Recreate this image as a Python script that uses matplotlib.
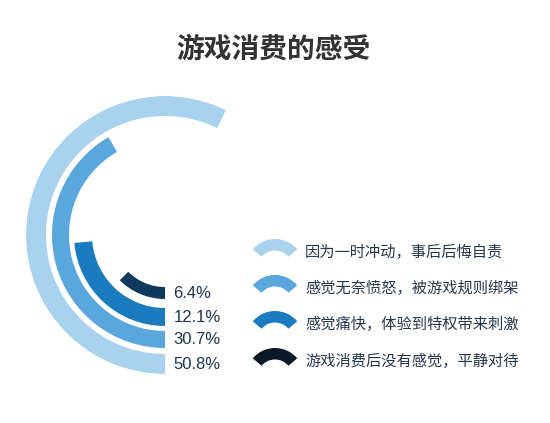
import numpy as np
import matplotlib
matplotlib.use("Agg")
import matplotlib.pyplot as plt
from matplotlib.patches import Wedge

plt.rcParams['font.family'] = ['Noto Sans CJK SC', 'DejaVu Sans']

# ---- data ----
title = "游戏消费的感受"
categories = ["因为一时冲动，事后后悔自责",
              "感觉无奈愤怒，被游戏规则绑架",
              "感觉痛快，体验到特权带来刺激",
              "游戏消费后没有感觉，平静对待"]
values = [50.8, 30.7, 12.1, 6.4]
value_labels = ["50.8%", "30.7%", "12.1%", "6.4%"]
# angular extent of each arc as drawn in the reference (degrees)
arc_extent = [206, 150, 85, 45]

# ---- styles ----
colors = ["#a9d2ef", "#5aa7dd", "#1a7bbf", "#0e3a60"]
legend_colors = ["#a9d2ef", "#5aa7dd", "#1a7bbf", "#0b1828"]
ring_inner = [119, 96, 73, 52]
ring_outer = [139, 113, 91, 64]

W, H = 550, 423
fig = plt.figure(figsize=(W / 100, H / 100), dpi=100)
fig.patch.set_facecolor("white")

# polar axes for the rings
cx, cy, R = 165, 235, 139
pax = fig.add_axes([(cx - R) / W, (H - cy - R) / H, 2 * R / W, 2 * R / H],
                   projection="polar")
pax.set_theta_zero_location("S")
pax.set_theta_direction(-1)
pax.set_ylim(0, R)
pax.axis("off")

for ext, ri, ro, c, lab in zip(arc_extent, ring_inner, ring_outer, colors, value_labels):
    th = np.deg2rad(ext)
    pax.bar(th / 2, ro - ri, width=th, bottom=ri, color=c, edgecolor="none",
            align="center")
    pax.annotate(lab, xy=(0, (ri + ro) / 2), xytext=(6, 0),
                 textcoords="offset points", ha="left", va="center",
                 fontsize=12, color="#1e3550", family=["Liberation Sans", "DejaVu Sans"])

# overlay axes in pixel coordinates for title and legend
ov = fig.add_axes([0, 0, 1, 1])
ov.set_xlim(0, W)
ov.set_ylim(H, 0)
ov.set_aspect("equal")
ov.axis("off")
ov.patch.set_alpha(0)

ov.text(W / 2 - 2, 50, title, ha="center", va="center", fontsize=20,
        fontweight="bold", color="#333333")

row_y = [252, 288, 324, 361]
for y, c, lab in zip(row_y, legend_colors, categories):
    # y axis is inverted, so angles 220..320 point upward on screen
    ov.add_patch(Wedge((275, y + 16), 29, 220, 320, width=11.5, facecolor=c,
                       edgecolor="none"))
    ov.text(305, y, lab, ha="left", va="center", fontsize=11, color="#25374b")

fig.savefig("out.png", dpi=100)
